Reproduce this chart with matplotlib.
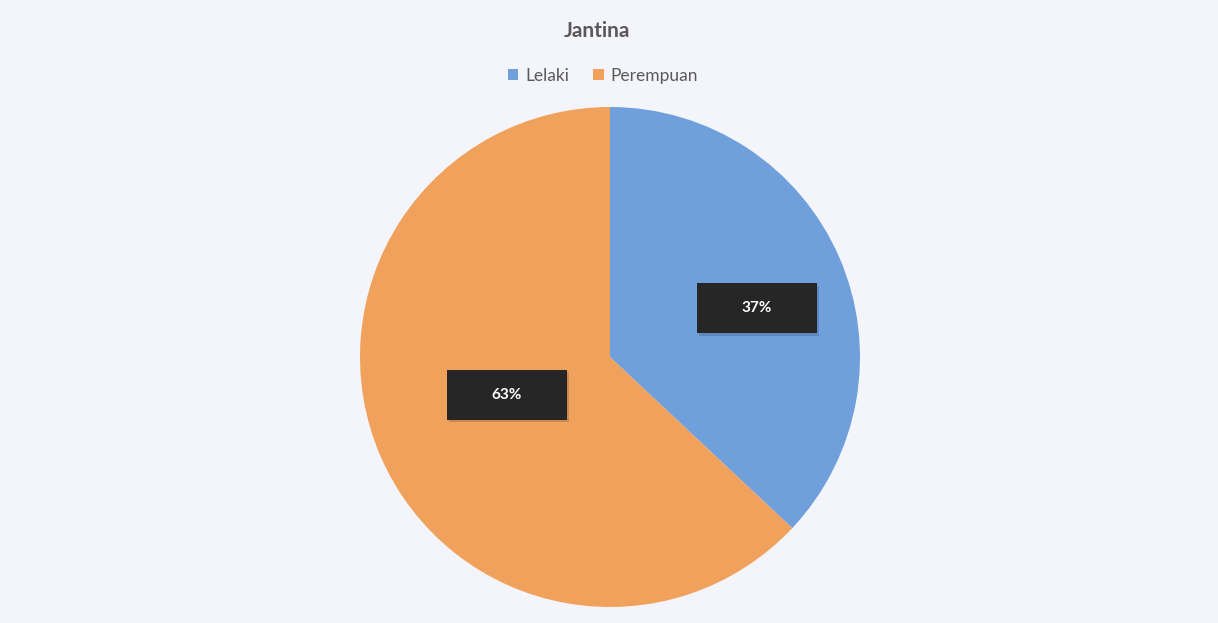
import numpy as np
import matplotlib.pyplot as plt
from matplotlib.patches import Rectangle

# data
labels = ['Lelaki', 'Perempuan']
values = [37, 63]
colors = ['#6fa0dc', '#f0a15c']
label_dist = [0.62, 0.44]
label_shift = [-5.0, -3.2]  # degrees off the wedge middle

plt.rcParams['font.family'] = ['Lato', 'DejaVu Sans']

W, H = 1218, 623
fig = plt.figure(figsize=(W / 100, H / 100), dpi=100)
fig.patch.set_facecolor('#f4f5fa')

cx, cy, r = 610, 357, 250
ax = fig.add_axes([(cx - r) / W, (H - cy - r) / H, 2 * r / W, 2 * r / H])
ax.set_facecolor('none')

wedges, _ = ax.pie(values, colors=colors, startangle=90, counterclock=False,
                   radius=1.0, wedgeprops=dict(linewidth=0))
ax.set_xlim(-1, 1)
ax.set_ylim(-1, 1)
ax.set_aspect('equal')
ax.axis('off')

bw, bh = 120 / r, 50 / r
for w, v, d, s in zip(wedges, values, label_dist, label_shift):
    ang = np.deg2rad((w.theta1 + w.theta2) / 2 + s)
    x, y = d * np.cos(ang), d * np.sin(ang)
    ax.add_patch(Rectangle((x - bw / 2 + 0.008, y - bh / 2 - 0.01), bw, bh,
                           facecolor='#000000', alpha=0.15, linewidth=0, zorder=3))
    ax.add_patch(Rectangle((x - bw / 2, y - bh / 2), bw, bh,
                           facecolor='#262626', linewidth=0, zorder=4))
    ax.text(x, y, f'{v}%', color='white', fontsize=11, fontweight='bold',
            ha='center', va='center', zorder=5)

fig.text(597 / W, 1 - 31 / H, 'Jantina', ha='center', va='center',
         fontsize=15, fontweight='bold', color='#595959')

handles = [Rectangle((0, 0), 1, 1, facecolor=c, linewidth=0) for c in colors]
fig.legend(handles, labels, loc='center', bbox_to_anchor=(603 / W, 1 - 76 / H),
           ncol=2, frameon=False, fontsize=12.5, labelcolor='#595959',
           handlelength=0.6, handleheight=0.6, handletextpad=0.4, columnspacing=1.4)

fig.savefig('out.png', dpi=100, facecolor=fig.get_facecolor())
